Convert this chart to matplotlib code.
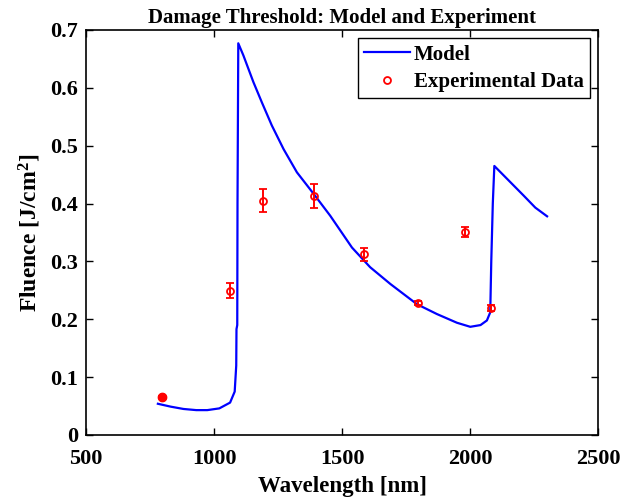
import numpy as np
import matplotlib
matplotlib.use('Agg')
import matplotlib.pyplot as plt
from matplotlib.ticker import FuncFormatter

model_wl = [780, 830, 880, 930, 973, 1020, 1062, 1080, 1086, 1087, 1090, 1091, 1094,
            1114, 1153, 1186, 1225, 1271, 1323, 1388, 1453, 1538, 1609, 1688,
            1792, 1870, 1948, 2000, 2040, 2065, 2078, 2082, 2088, 2094, 2208, 2254, 2300]
model_f = [0.054, 0.049, 0.045, 0.043, 0.043, 0.046, 0.056, 0.075, 0.12, 0.183,
           0.19, 0.40, 0.677, 0.656, 0.610, 0.575, 0.535, 0.494, 0.454, 0.417,
           0.379, 0.324, 0.290, 0.261, 0.226, 0.209, 0.194, 0.187, 0.190, 0.198,
           0.212, 0.30, 0.40, 0.465, 0.414, 0.393, 0.378]

# measured damage thresholds with error bars
exp_wl = [797, 1062, 1192, 1391, 1584, 1796, 1981, 2082]
exp_f = [0.066, 0.249, 0.405, 0.413, 0.312, 0.228, 0.351, 0.219]
exp_err = [0.002, 0.013, 0.020, 0.021, 0.011, 0.004, 0.008, 0.005]

xticks = [500, 1000, 1500, 2000, 2500]
yticks = [0, 0.1, 0.2, 0.3, 0.4, 0.5, 0.6, 0.7]

# ------- plot appearance
plt.rcParams.update({
    'font.family': 'Liberation Serif',
    'font.weight': 'bold',
    'axes.labelweight': 'bold',
    'axes.titleweight': 'bold',
    'mathtext.fontset': 'custom',
    'mathtext.rm': 'Liberation Serif:bold',
    'mathtext.it': 'Liberation Serif:bold',
    'mathtext.bf': 'Liberation Serif:bold',
    'xtick.direction': 'in',
    'ytick.direction': 'in',
    'xtick.top': True,
    'ytick.right': True,
})

fig = plt.figure(figsize=(6.2, 5.0), dpi=100)
ax = fig.add_axes([0.139, 0.13, 0.826, 0.81])

red = (1, 0, 0)
ax.plot(model_wl, model_f, color=(0, 0, 1), linewidth=1.6, label='Model')
ax.errorbar(exp_wl, exp_f, yerr=exp_err, fmt='o', color=red,
            markerfacecolor='none', markeredgewidth=1.3, markersize=5,
            elinewidth=1.4, capsize=3, capthick=1.4,
            label='Experimental Data')
# the 800 nm point has almost no spread, so it prints as a solid dot
ax.plot(exp_wl[0], exp_f[0], 'o', color=red, markersize=6)

ax.set_xlim(500, 2500)
ax.set_ylim(0, 0.7)
ax.set_xticks(xticks)
ax.set_yticks(yticks)
ax.yaxis.set_major_formatter(FuncFormatter(lambda v, p: '0' if v == 0 else '%g' % v))
ax.tick_params(labelsize=16, length=5, width=1)
ax.tick_params(axis='x', pad=10)
ax.tick_params(axis='y', pad=6)
for s in ax.spines.values():
    s.set_linewidth(1.2)

ax.set_xlabel('Wavelength [nm]', fontsize=16.5, labelpad=5)
ax.set_ylabel('Fluence [J/cm$^{2}$]', fontsize=17, labelpad=5)
ax.set_title('Damage Threshold: Model and Experiment', fontsize=15, pad=5)

handles, labels = ax.get_legend_handles_labels()
handles[1] = plt.Line2D([], [], marker='o', linestyle='none', color=red,
                        markerfacecolor='none', markeredgewidth=1.3, markersize=5)
leg = ax.legend(handles, labels, loc='upper right', fontsize=15, fancybox=False,
                edgecolor='black', framealpha=1, borderaxespad=0.4,
                handlelength=2.2, handletextpad=0.2, borderpad=0.3,
                labelspacing=0.35)
leg.get_frame().set_linewidth(1.0)

fig.savefig('out.png', dpi=100)
